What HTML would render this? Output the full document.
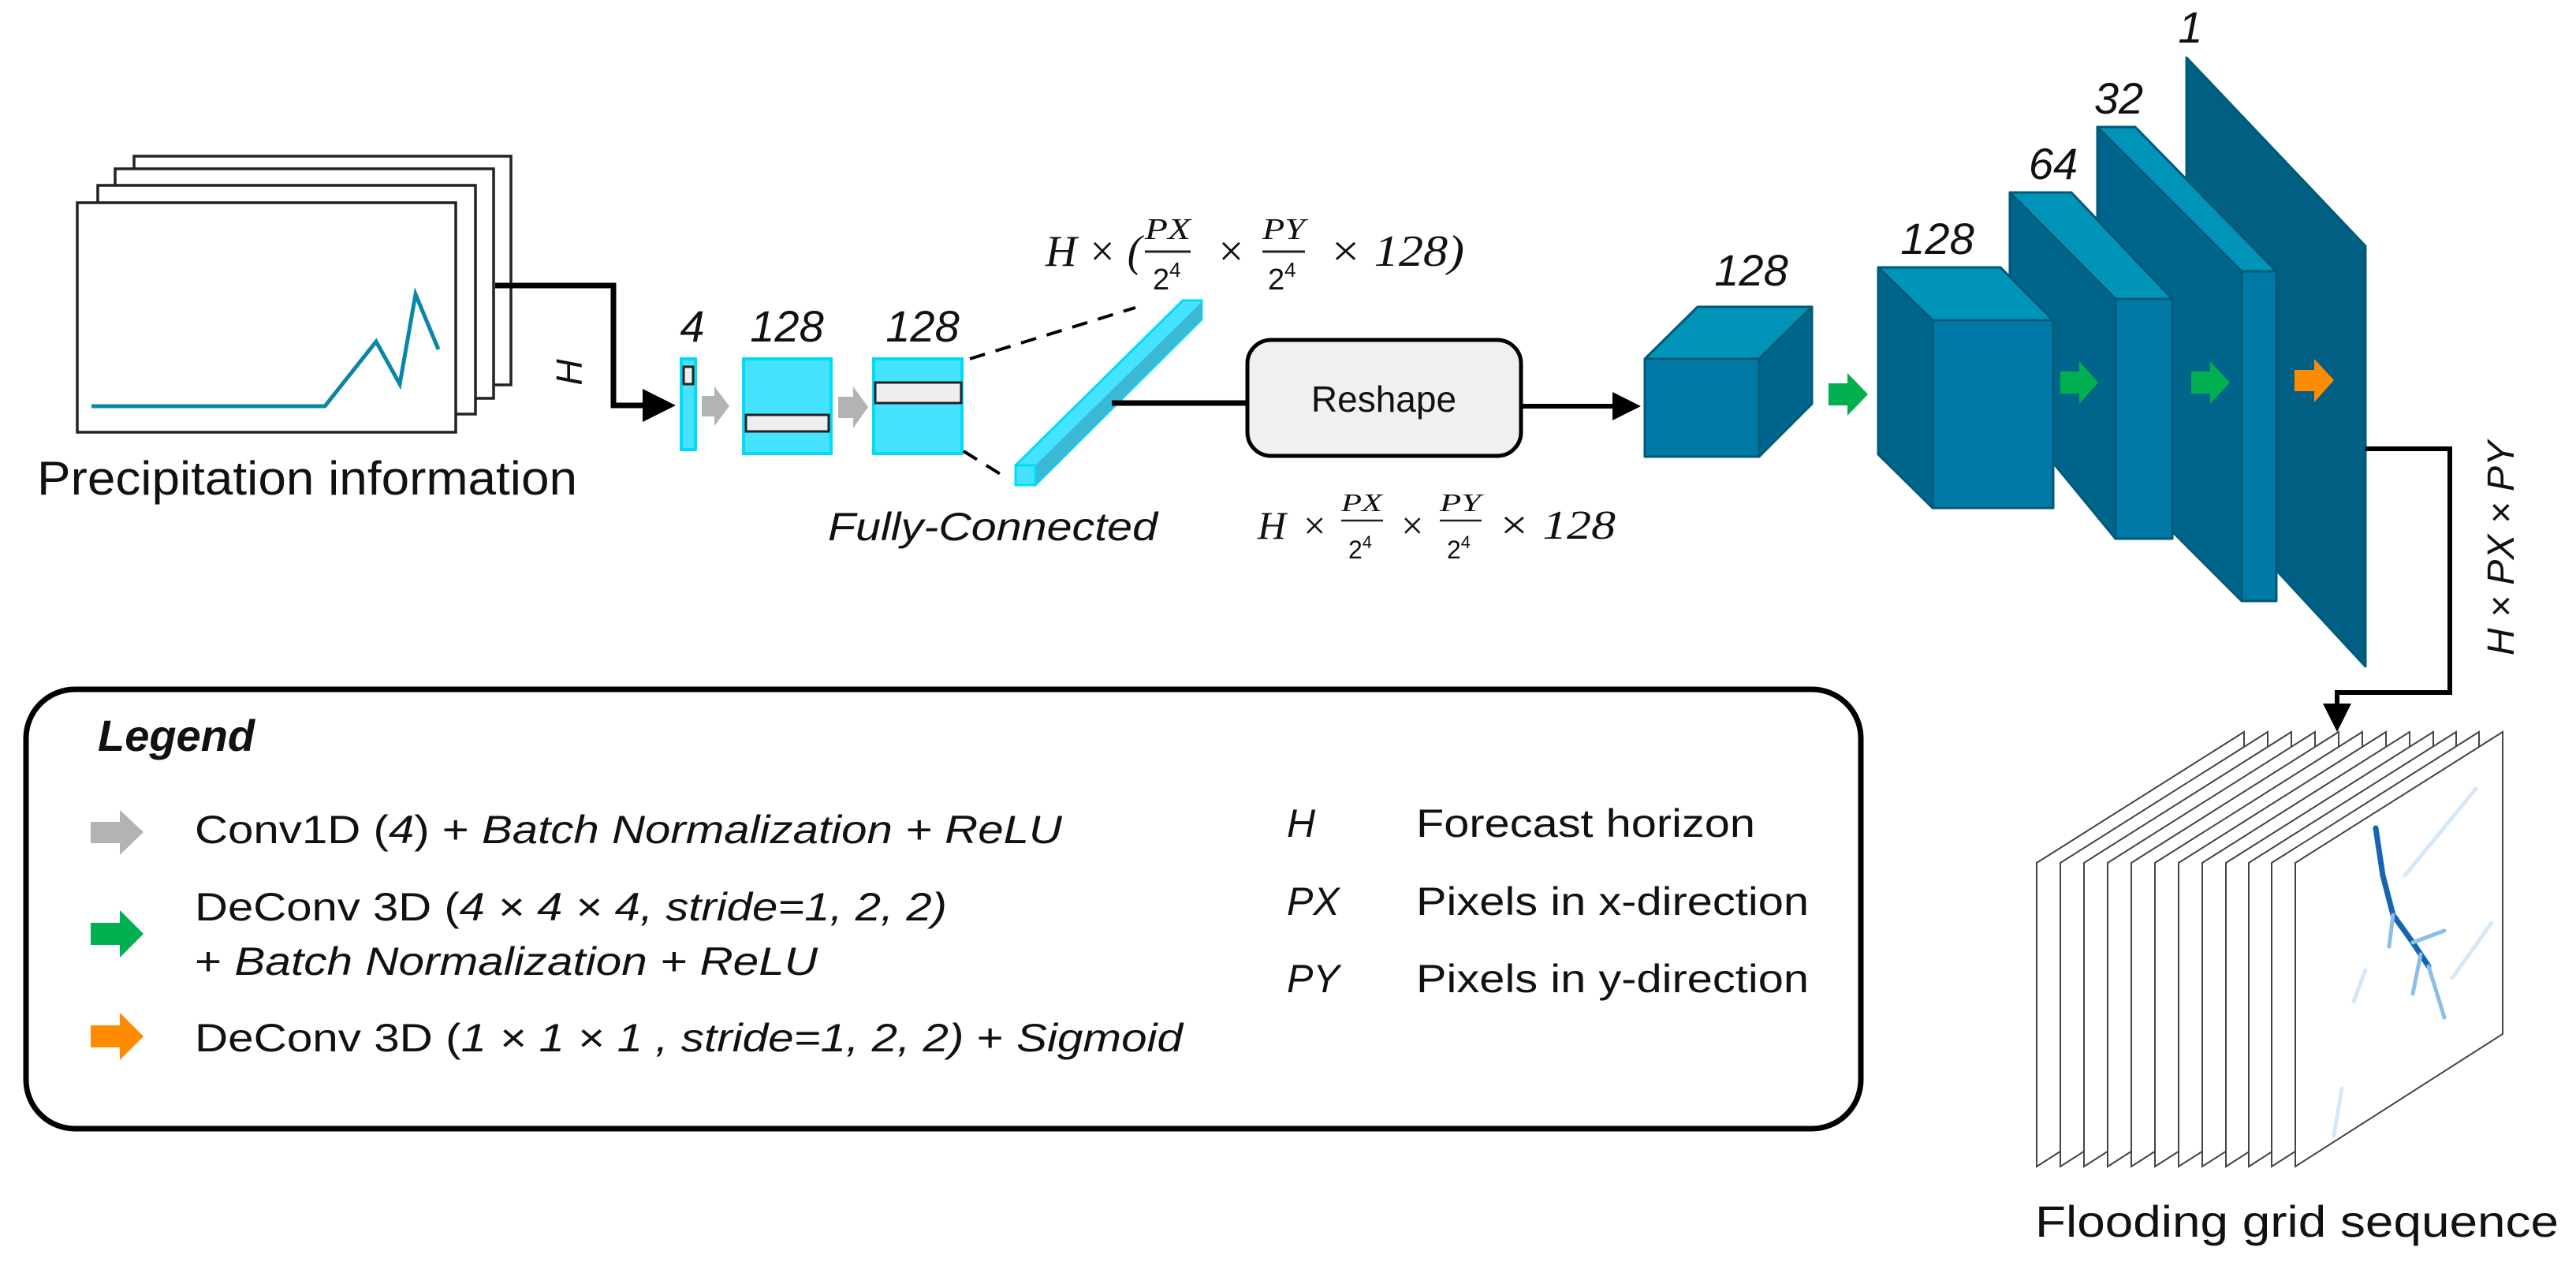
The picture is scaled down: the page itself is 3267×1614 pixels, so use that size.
<!DOCTYPE html>
<html><head><meta charset="utf-8"><style>
html,body{margin:0;padding:0;background:#fff;}
svg{display:block;}
text{font-family:"Liberation Sans",sans-serif;fill:#111;}
.m{font-family:"Liberation Serif",serif;font-style:italic;}
</style></head><body>
<svg width="3267" height="1614" viewBox="0 0 3267 1614" xmlns="http://www.w3.org/2000/svg">
<defs>
<marker id="ah" markerWidth="6" markerHeight="6" refX="5" refY="3" orient="auto" markerUnits="strokeWidth"><path d="M0,0 L6,3 L0,6 z" fill="#000"/></marker>
</defs>

<g fill="#fff" stroke="#222" stroke-width="3.5">
<rect x="170" y="198" width="478" height="290"/>
<rect x="146" y="214" width="480" height="291"/>
<rect x="124" y="235" width="479" height="290"/>
<rect x="98" y="257" width="480" height="291"/>
</g>
<polyline points="116,515 412,515 477,433 507,487 527,373 556,443" fill="none" stroke="#0a86a8" stroke-width="5"/>
<text x="47" y="627" font-size="60" textLength="685" lengthAdjust="spacingAndGlyphs">Precipitation information</text>

<polyline points="628,362 778,362 778,514 850,514" fill="none" stroke="#000" stroke-width="7" marker-end="url(#ah)"/>
<text x="0" y="0" font-size="46" font-style="italic" transform="translate(738,472) rotate(-90)" text-anchor="middle">H</text>

<g fill="#45e3ff" stroke="#00dcf7" stroke-width="4">
<rect x="864" y="455" width="18" height="115"/>
<rect x="943" y="455" width="111" height="120"/>
<rect x="1108" y="455" width="112" height="120"/>
</g>
<g fill="#eee" stroke="#222" stroke-width="3">
<rect x="867" y="465" width="12" height="22"/>
<rect x="946" y="526" width="105" height="21"/>
<rect x="1110" y="485" width="109" height="26"/>
</g>
<g fill="#b3b3b3">
<polygon points="890,502 906,502 906,490 925,515 906,540 906,528 890,528"/>
<polygon points="1063,503 1082,503 1082,490 1101,516 1082,543 1082,530 1063,530"/>
</g>
<g font-size="56" font-style="italic" text-anchor="middle">
<text x="878" y="433">4</text>
<text x="998" y="433">128</text>
<text x="1170" y="433">128</text>
</g>

<g stroke="#000" stroke-width="4" stroke-dasharray="20,14" fill="none">
<line x1="1230" y1="455" x2="1440" y2="390"/>
<line x1="1222" y1="572" x2="1275" y2="605"/>
</g>

<polygon points="1288,615 1288,590 1500,381 1524,381 1524,405 1313,615" fill="#45e3ff" stroke="#00dcf7" stroke-width="3"/>
<polygon points="1313,590 1524,383 1524,405 1313,615" fill="#3bb9d4"/>
<rect x="1288" y="590" width="25" height="25" fill="#45e3ff" stroke="#00dcf7" stroke-width="3"/>
<text x="1050" y="685" font-size="50" font-style="italic" textLength="418" lengthAdjust="spacingAndGlyphs">Fully-Connected</text>

<text class="m" x="1326" y="337" font-size="56" textLength="122" lengthAdjust="spacingAndGlyphs">H × (</text>
<text class="m" x="1452" y="303" font-size="38" textLength="58" lengthAdjust="spacingAndGlyphs">PX</text>
<line x1="1452" y1="319" x2="1510" y2="319" stroke="#222" stroke-width="3"/>
<text x="1462" y="367" font-size="38" font-family="Liberation Serif">2<tspan font-size="26" dy="-16">4</tspan></text>
<text class="m" x="1542" y="337" font-size="56">×</text>
<text class="m" x="1601" y="303" font-size="38" textLength="54" lengthAdjust="spacingAndGlyphs">PY</text>
<line x1="1601" y1="319" x2="1655" y2="319" stroke="#222" stroke-width="3"/>
<text x="1608" y="367" font-size="38" font-family="Liberation Serif">2<tspan font-size="26" dy="-16">4</tspan></text>
<text class="m" x="1685" y="337" font-size="56" textLength="172" lengthAdjust="spacingAndGlyphs">× 128)</text>

<line x1="1410" y1="511" x2="1582" y2="511" stroke="#000" stroke-width="7"/>
<rect x="1582" y="431" width="347" height="147" rx="30" fill="#f0f0f0" stroke="#000" stroke-width="5"/>
<text x="1755" y="522" font-size="46" text-anchor="middle">Reshape</text>
<line x1="1929" y1="515" x2="2075" y2="515" stroke="#000" stroke-width="6" marker-end="url(#ah)"/>

<text class="m" x="1595" y="683" font-size="50">H</text>
<text class="m" x="1650" y="683" font-size="50">×</text>
<text class="m" x="1701" y="648" font-size="32" textLength="52" lengthAdjust="spacingAndGlyphs">PX</text>
<line x1="1701" y1="660" x2="1754" y2="660" stroke="#222" stroke-width="2.5"/>
<text x="1710" y="708" font-size="32" font-family="Liberation Serif">2<tspan font-size="22" dy="-13">4</tspan></text>
<text class="m" x="1774" y="683" font-size="50">×</text>
<text class="m" x="1826" y="648" font-size="32" textLength="52" lengthAdjust="spacingAndGlyphs">PY</text>
<line x1="1826" y1="660" x2="1879" y2="660" stroke="#222" stroke-width="2.5"/>
<text x="1835" y="708" font-size="32" font-family="Liberation Serif">2<tspan font-size="22" dy="-13">4</tspan></text>
<text class="m" x="1899" y="683" font-size="52" textLength="150" lengthAdjust="spacingAndGlyphs">× 128</text>

<g stroke="#005a78" stroke-width="3" stroke-linejoin="round">
<polygon points="2773,73 3000,312 3000,845 2773,600" fill="#005f82"/>
<polygon points="2660,161 2843,344 2843,762 2660,579" fill="#00658a"/>
<polygon points="2660,161 2708,161 2887,344 2843,344" fill="#0094b8"/>
<rect x="2843" y="344" width="44" height="418" fill="#0079a6"/>
<polygon points="2549,244 2683,379 2683,683 2549,520" fill="#00658a"/>
<polygon points="2549,244 2627,244 2755,379 2683,379" fill="#0094b8"/>
<rect x="2683" y="379" width="72" height="304" fill="#0079a6"/>
<polygon points="2382,339 2451,406 2451,644 2382,576" fill="#00658a"/>
<polygon points="2382,339 2537,339 2604,406 2451,406" fill="#0094b8"/>
<rect x="2451" y="406" width="153" height="238" fill="#0079a6"/>
<polygon points="2086,455 2153,389 2298,389 2231,455" fill="#0094b8"/>
<polygon points="2231,455 2298,389 2298,512 2231,579" fill="#00658a"/>
<rect x="2086" y="455" width="145" height="124" fill="#0079a6"/>
</g>
<g font-size="56" font-style="italic" text-anchor="middle">
<text x="2221" y="362">128</text>
<text x="2457" y="322">128</text>
<text x="2604" y="227">64</text>
<text x="2687" y="144">32</text>
<text x="2778" y="54">1</text>
</g>
<g fill="#00b050">
<polygon points="2319,486 2343,486 2343,473 2369,500 2343,527 2343,514 2319,514"/>
<polygon points="2613,471 2637,471 2637,458 2661,485 2637,512 2637,499 2613,499"/>
<polygon points="2779,471 2803,471 2803,458 2828,485 2803,512 2803,499 2779,499"/>
</g>
<polygon points="2910,469 2935,469 2935,455 2960,482 2935,510 2935,496 2910,496" fill="#ff8c00"/>

<polyline points="3000,569 3107,569 3107,878 2964,878 2964,922" fill="none" stroke="#000" stroke-width="6" marker-end="url(#ah)"/>
<text x="0" y="0" font-size="48" font-style="italic" text-anchor="middle" transform="translate(3188,695) rotate(-90)">H × PX × PY</text>

<g fill="#fff" stroke="#444" stroke-width="2">
<polygon points="2583,1094 2846,928 2846,1311 2583,1479"/>
<polygon points="2613,1094 2876,928 2876,1311 2613,1479"/>
<polygon points="2643,1094 2906,928 2906,1311 2643,1479"/>
<polygon points="2673,1094 2936,928 2936,1311 2673,1479"/>
<polygon points="2703,1094 2966,928 2966,1311 2703,1479"/>
<polygon points="2733,1094 2996,928 2996,1311 2733,1479"/>
<polygon points="2763,1094 3026,928 3026,1311 2763,1479"/>
<polygon points="2793,1094 3056,928 3056,1311 2793,1479"/>
<polygon points="2823,1094 3086,928 3086,1311 2823,1479"/>
<polygon points="2852,1094 3115,928 3115,1311 2852,1479"/>
<polygon points="2881,1094 3144,928 3144,1311 2881,1479"/>
<polygon points="2911,1094 3174,928 3174,1311 2911,1479"/>
</g>
<g fill="none" stroke-linecap="round">
<path d="M3013,1050 L3022,1110 L3035,1160 L3060,1195 L3080,1225" stroke="#1565b0" stroke-width="7"/>
<path d="M3035,1160 L3030,1200 M3060,1195 L3100,1180 M3070,1210 L3060,1260 M3080,1225 L3100,1290" stroke="#8cbfe6" stroke-width="5"/>
<path d="M3050,1110 L3140,1000 M3000,1230 L2985,1270 M3110,1240 L3160,1170 M2970,1380 L2960,1440" stroke="#d6e8f7" stroke-width="5"/>
</g>
<text x="2581" y="1568" font-size="56" textLength="664" lengthAdjust="spacingAndGlyphs">Flooding grid sequence</text>

<rect x="33" y="874" width="2327" height="557" rx="62" fill="#fff" stroke="#000" stroke-width="7"/>
<text x="124" y="952" font-size="56" font-weight="bold" font-style="italic">Legend</text>
<polygon points="115,1042 152,1042 152,1027 182,1055 152,1084 152,1069 115,1069" fill="#b3b3b3"/>
<polygon points="115,1170 152,1170 152,1154 182,1184 152,1214 152,1198 115,1198" fill="#00b050"/>
<polygon points="115,1300 152,1300 152,1284 182,1314 152,1344 152,1328 115,1328" fill="#ff8c00"/>
<g font-size="50">
<text x="247" y="1069" textLength="1100" lengthAdjust="spacingAndGlyphs">Conv1D (<tspan font-style="italic">4</tspan>) + <tspan font-style="italic">Batch Normalization + ReLU</tspan></text>
<text x="247" y="1167" textLength="954" lengthAdjust="spacingAndGlyphs">DeConv 3D (<tspan font-style="italic">4 × 4 × 4, stride=1, 2, 2)</tspan></text>
<text x="247" y="1236" textLength="790" lengthAdjust="spacingAndGlyphs">+ <tspan font-style="italic">Batch Normalization + ReLU</tspan></text>
<text x="247" y="1333" textLength="1253" lengthAdjust="spacingAndGlyphs">DeConv 3D (<tspan font-style="italic">1 × 1 × 1 , stride=1, 2, 2)</tspan> + <tspan font-style="italic">Sigmoid</tspan></text>
<text x="1632" y="1061" font-style="italic">H</text>
<text x="1632" y="1160" font-style="italic">PX</text>
<text x="1632" y="1258" font-style="italic">PY</text>
<text x="1796" y="1061" textLength="430" lengthAdjust="spacingAndGlyphs">Forecast horizon</text>
<text x="1796" y="1160" textLength="498" lengthAdjust="spacingAndGlyphs">Pixels in x-direction</text>
<text x="1796" y="1258" textLength="498" lengthAdjust="spacingAndGlyphs">Pixels in y-direction</text>
</g>
</svg>
</body></html>
